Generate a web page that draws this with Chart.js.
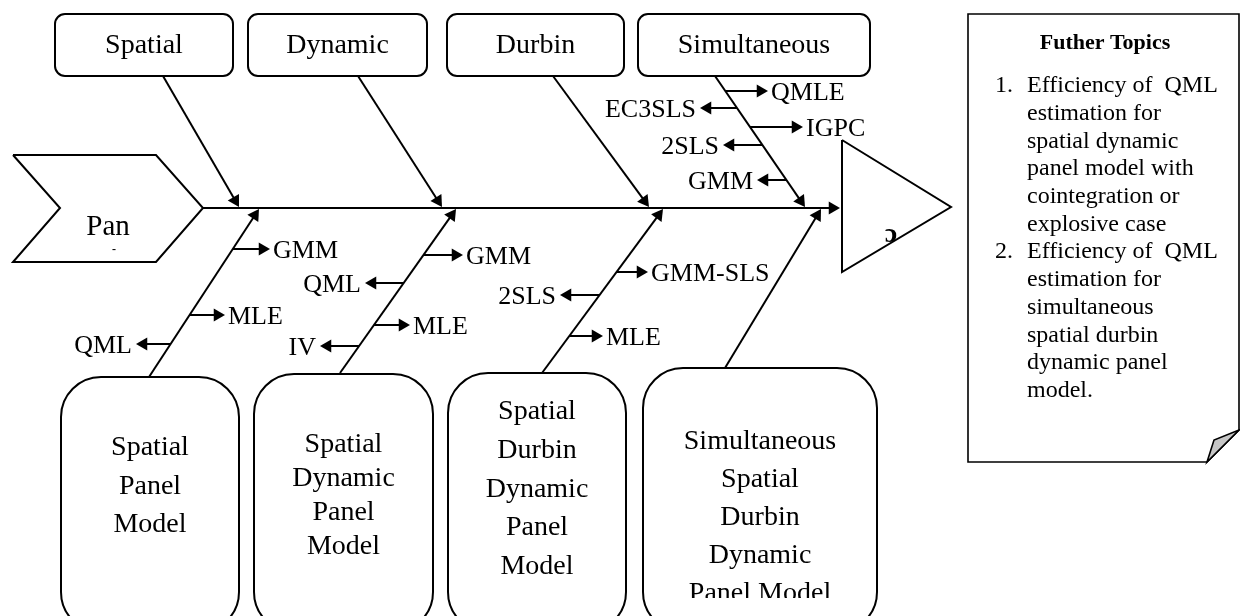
<!DOCTYPE html>
<html><head><meta charset="utf-8">
<script src="https://cdn.jsdelivr.net/npm/chart.js@4/dist/chart.umd.min.js"></script>
<style>html,body{margin:0;padding:0;background:#fff;overflow:hidden}canvas{display:block}</style>
</head><body>
<canvas id="c" width="1240" height="616"></canvas>
<script>
// ---- content ----
const headLabel = 'Pan';
const causeLabels = ['Spatial', 'Dynamic', 'Durbin', 'Simultaneous'];
const modelLabels = [
  ['Spatial', 'Panel', 'Model'],
  ['Spatial', 'Dynamic', 'Panel', 'Model'],
  ['Spatial', 'Durbin', 'Dynamic', 'Panel', 'Model'],
  ['Simultaneous', 'Spatial', 'Durbin', 'Dynamic', 'Panel Model']
];
const spatialMethods = ['GMM', 'MLE', 'QML'];
const dynamicMethods = ['GMM', 'QML', 'MLE', 'IV'];
const durbinMethods = ['GMM-SLS', '2SLS', 'MLE'];
const simultaneousMethods = ['QMLE', 'EC3SLS', 'IGPC', '2SLS', 'GMM'];
const topicTitle = 'Futher Topics';
const topicNumbers = ['1.', '', '', '', '', '', '2.', '', '', '', '', ''];
const topicLines = ['Efficiency of  QML', 'estimation for', 'spatial dynamic', 'panel model with',
  'cointegration or', 'explosive case', 'Efficiency of  QML', 'estimation for', 'simultaneous',
  'spatial durbin', 'dynamic panel', 'model.'];

// ---- layout (pixel-space values on the hidden linear scales) ----
const spine = [[203, 208], [840, 208]];
const chevron = [[13, 155], [156, 155], [203, 208], [156, 262], [13, 262], [60, 208], [13, 155]];
const effectTri = [[842, 140], [951, 207], [842, 272], [842, 140]];
const topBoxes = [[55, 14, 233, 76], [248, 14, 427, 76], [447, 14, 624, 76], [638, 14, 870, 76]];
const topBranches = [[[163, 76], [239, 207]], [[358, 76], [442, 207]], [[553, 76], [649, 207]], [[715, 76], [805, 207]]];
const bottomBoxes = [[61, 377, 239, 632], [254, 374, 433, 632], [448, 373, 626, 632], [643, 368, 877, 632]];
const bottomBranches = [[[149, 377], [259, 209]], [[340, 373], [456, 209]], [[542, 373], [663, 209]], [[725, 368], [821, 209]]];
const modelTextStart = [448, 445, 412, 442];
const modelTextStep = [38.5, 34, 38.7, 38];
const methodGroups = [
  {names: spatialMethods, branch: ['b', 0], ys: [249, 315, 344], tips: [270, 225, 136]},
  {names: dynamicMethods, branch: ['b', 1], ys: [255, 283, 325, 346], tips: [463, 365, 410, 320]},
  {names: durbinMethods, branch: ['b', 2], ys: [272, 295, 336], tips: [648, 560, 603]},
  {names: simultaneousMethods, branch: ['t', 3], ys: [91, 108, 127, 145, 180], tips: [768, 700, 803, 723, 757]}
];
const panel = [[968, 14], [1239, 14], [1239, 430], [1207, 462], [968, 462], [968, 14]];
const fold = [[1207, 462], [1214, 440], [1239, 430]];

const SERIF = '"Liberation Serif", "Times New Roman", serif';
const HEAD = 7.5;

function lineDs(points, arrow) {
  const pts = points.map(p => ({x: p[0], y: p[1]}));
  let rot = 0;
  if (arrow) {
    const a = points[points.length - 2], b = points[points.length - 1];
    const dx = b[0] - a[0], dy = b[1] - a[1], L = Math.hypot(dx, dy);
    pts[pts.length - 1] = {x: b[0] - dx / L * HEAD, y: b[1] - dy / L * HEAD};
    rot = Math.atan2(dx, -dy) * 180 / Math.PI;
  }
  return {
    data: pts, showLine: true, borderColor: '#000', borderWidth: 2, borderJoinStyle: 'miter',
    pointRadius: pts.map((p, i) => (arrow && i === pts.length - 1) ? HEAD : 0),
    pointStyle: 'triangle', rotation: rot, pointBackgroundColor: '#000', pointBorderColor: '#000',
    pointBorderWidth: 0, clip: false, tension: 0
  };
}
function branchOf(ref) { return ref[0] === 't' ? topBranches[ref[1]] : bottomBranches[ref[1]]; }
function xOnBranch(br, y) {
  const [a, b] = br; return a[0] + (b[0] - a[0]) * (y - a[1]) / (b[1] - a[1]);
}

const datasets = [];
datasets.push(lineDs(spine, true));
datasets.push(lineDs(chevron, false));
datasets.push(lineDs(effectTri, false));
topBranches.forEach(b => datasets.push(lineDs(b, true)));
bottomBranches.forEach(b => datasets.push(lineDs(b, true)));
methodGroups.forEach(g => {
  const br = branchOf(g.branch);
  g.ys.forEach((y, i) => datasets.push(lineDs([[xOnBranch(br, y), y], [g.tips[i], y]], true)));
});

const fishPlugin = {
  id: 'fish',
  beforeDatasetsDraw(chart) {
    const ctx = chart.ctx, X = v => chart.scales.x.getPixelForValue(v), Y = v => chart.scales.y.getPixelForValue(v);
    ctx.save();
    ctx.strokeStyle = '#000'; ctx.lineWidth = 2; ctx.fillStyle = '#fff';
    topBoxes.forEach(b => {
      ctx.beginPath(); ctx.roundRect(X(b[0]), Y(b[1]), X(b[2]) - X(b[0]), Y(b[3]) - Y(b[1]), 10);
      ctx.fill(); ctx.stroke();
    });
    bottomBoxes.forEach(b => {
      ctx.beginPath(); ctx.roundRect(X(b[0]), Y(b[1]), X(b[2]) - X(b[0]), Y(b[3]) - Y(b[1]), 40);
      ctx.fill(); ctx.stroke();
    });
    ctx.lineWidth = 1.6;
    ctx.beginPath();
    panel.forEach((p, i) => i ? ctx.lineTo(X(p[0]), Y(p[1])) : ctx.moveTo(X(p[0]), Y(p[1])));
    ctx.closePath(); ctx.fill(); ctx.stroke();
    ctx.beginPath();
    fold.forEach((p, i) => i ? ctx.lineTo(X(p[0]), Y(p[1])) : ctx.moveTo(X(p[0]), Y(p[1])));
    ctx.closePath(); ctx.fillStyle = '#c6c6c6'; ctx.fill(); ctx.stroke();
    ctx.restore();
  },
  afterDatasetsDraw(chart) {
    const ctx = chart.ctx, X = v => chart.scales.x.getPixelForValue(v), Y = v => chart.scales.y.getPixelForValue(v);
    ctx.save();
    ctx.fillStyle = '#000'; ctx.textBaseline = 'middle';
    ctx.font = '29px ' + SERIF; ctx.textAlign = 'center';
    ctx.fillText(headLabel, X(108), Y(227));
    ctx.font = 'bold 12px ' + SERIF; ctx.fillText('-', X(114), Y(250));
    ctx.font = 'bold 28px ' + SERIF; ctx.fillText('\u0254', X(891), Y(235));
    ctx.font = '28px ' + SERIF;
    topBoxes.forEach((b, i) => ctx.fillText(causeLabels[i], X((b[0] + b[2]) / 2), Y(46)));
    bottomBoxes.forEach((b, i) => {
      ctx.save();
      ctx.beginPath(); ctx.rect(X(b[0]), Y(b[1]), X(b[2]) - X(b[0]), Y(598) - Y(b[1])); ctx.clip();
      modelLabels[i].forEach((t, k) => ctx.fillText(t, X((b[0] + b[2]) / 2), Y(modelTextStart[i] + k * modelTextStep[i])));
      ctx.restore();
    });
    ctx.font = '26px ' + SERIF;
    methodGroups.forEach(g => {
      const br = branchOf(g.branch);
      g.ys.forEach((y, i) => {
        const x0 = xOnBranch(br, y), tip = g.tips[i];
        if (tip > x0) { ctx.textAlign = 'left'; ctx.fillText(g.names[i], X(tip + 3), Y(y + 2)); }
        else { ctx.textAlign = 'right'; ctx.fillText(g.names[i], X(tip - 4), Y(y + 2)); }
      });
    });
    ctx.textAlign = 'center'; ctx.font = 'bold 22px ' + SERIF;
    ctx.fillText(topicTitle, X(1105), Y(43));
    ctx.font = '24px ' + SERIF;
    topicLines.forEach((t, k) => {
      const y = 86 + k * 27.7;
      ctx.textAlign = 'left';
      if (topicNumbers[k]) ctx.fillText(topicNumbers[k], X(995), Y(y));
      ctx.fillText(t, X(1027), Y(y));
    });
    ctx.restore();
  }
};

new Chart(document.getElementById('c'), {
  type: 'scatter',
  data: {datasets},
  options: {
    responsive: false, animation: false, devicePixelRatio: 1,
    layout: {padding: 0, autoPadding: false},
    plugins: {legend: {display: false}, tooltip: {enabled: false}},
    events: [],
    scales: {
      x: {type: 'linear', min: 0, max: 1240, display: false},
      y: {type: 'linear', min: 0, max: 616, reverse: true, display: false}
    }
  },
  plugins: [fishPlugin]
});
</script>
</body></html>
